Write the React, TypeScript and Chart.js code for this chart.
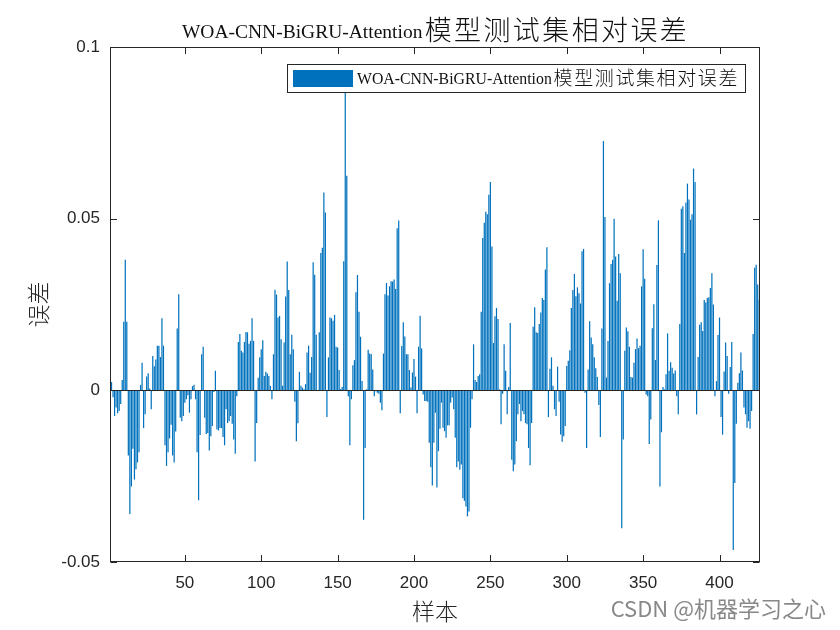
import React, { useEffect, useRef } from "react";
import { Chart, registerables } from "chart.js";
Chart.register(...registerables);

// ---- data (relative error per test sample) ----
const seg0 = [0.001];
const seg1 = [0.0024,-0.002,-0.0075,-0.005,-0.0067,-0.006,-0.004,0.003,0.020,0.038,0.020,-0.019,-0.036,-0.028,-0.017,-0.026,-0.023,-0.021,-0.018,0.0016,0.008,-0.011,-0.007,0.004,0.005,0.0005,-0.0055,0.010,0.007,0.009,0.013,0.013,0.0097,0.021,0.013,-0.016,-0.022,-0.018,-0.014,-0.010,-0.019,-0.021,-0.012,0.018,0.028,-0.008,-0.009,-0.0075,-0.0036,-0.0026,-0.0014,-0.0065,-0.0026];
const seg2 = [0.0012,0.0016,-0.0026,-0.018,-0.032,-0.013,0.0105,0.0127,-0.008,-0.0127,-0.0124,-0.0175,-0.0134,-0.0104,-0.0005,0.0057,-0.0114,-0.0117,-0.011,-0.011,-0.0136,-0.016,-0.0055,-0.0095,-0.009,-0.0075,-0.0097,-0.0143,-0.0185,-0.0017,0.0141,0.0164,0.0115,0.011,0.0141,0.017,0.0169,0.0136,0.0144,0.021,0.0144,-0.0207,-0.0095,0.0037,0.0096,0.012,0.0146,0.0042,0.0054,0.0049,0.0042,0.0013,-0.0026,0.0105];
const seg3 = [0.0293,0.0279,0.0212,0.0217,0.0149,0.0013,0.0139,0.0273,0.0375,0.0292,0.0105,0.0162,0.012,-0.0033,-0.0148,-0.0096,0.0054,0.0013,0.0008,0.0003,0.0018,0.011,0.013,0.0051,0.0097,0.0373,0.0337,0.0162,-0.0002,0.0169,0.040,0.0415,0.0576,0.0518,-0.0078,0.0096,0.0212,0.021,0.0203,0.022,0.0127,0.0125,0.0059,0.0004,0.001,0.0376,0.0874,0.0625,-0.0017,-0.016,-0.0026,0.0073,0.0088];
const seg4 = [0.0286,0.0336,0.0229,0.0156,0.0027,-0.0377,-0.0168,0.0003,0.0118,0.0107,0.0105,0.0061,-0.0017,-0.0003,-0.0007,-0.001,-0.0036,-0.0058,0.0107,0.028,0.0313,0.0276,0.0303,0.0318,0.0317,0.0323,0.0295,0.0472,0.0495,-0.0067,0.0129,0.0198,0.0157,0.0105,0.0105,0.0059,0.0008,0.0052,0.0091,0.004,-0.0067,0.0127,0.0217,0.0122,-0.0012,-0.0031,-0.0031,-0.0033,-0.0153,-0.0224,-0.0277,-0.0153,-0.0065];
const seg5 = [-0.0283,-0.0177,-0.0112,-0.0036,-0.0109,-0.0119,-0.0138,-0.0102,-0.0102,-0.0036,-0.0021,-0.0055,-0.0138,-0.0224,-0.0207,-0.0231,-0.0216,-0.0314,-0.0322,-0.0338,-0.0367,-0.0353,-0.0109,-0.0026,0.0134,0.003,0.0024,0.0042,0.0047,0.0229,0.0444,0.0488,0.052,0.0513,0.057,0.0607,0.0419,0.0138,0.0216,0.024,0.0208,0.0003,-0.0099,-0.001,0.0134,0.0057,-0.007,0.001,0.0196,-0.0202,-0.0236,-0.0216,-0.0148,-0.007,-0.004];
const seg6 = [-0.009,-0.006,-0.007,-0.0095,-0.0099,-0.0168,-0.0218,-0.0095,0.0185,0.0242,0.0169,0.0167,0.0193,0.0227,0.0269,0.0263,0.0352,0.0417,-0.0078,0.0063,0.0096,0.0013,-0.0055,-0.0075,0.0069,-0.0033,-0.0129,-0.015,-0.0134,-0.0104,0.0071,0.0086,0.0117,0.024,0.0292,0.0339,0.0274,0.03,0.0283,0.0253,0.0405,0.0412,-0.0007,-0.0168,0.0061,0.0201,0.0154,0.0134,0.0096,0.0064,0.0039,-0.0043,-0.0136,0.018];
const seg7 = [0.0726,0.0505,0.0037,0.0144,0.0312,0.0368,0.038,0.05,0.039,0.0261,0.0397,0.0341,-0.0402,-0.0143,0.0115,0.0183,0.0172,0.0127,0.0039,0.0037,0.008,0.012,0.0151,0.0123,0.013,0.0303,0.0411,0.0325,-0.0012,-0.0017,-0.0156,-0.0085,0.0181,0.0251,0.0088,0.0365,0.0495,-0.028,-0.0122,0.001,0.0003,0.0047,0.0166,0.0057,0.0082,0.0066,0.0049,0.0058,-0.0017,-0.007,0.0193,0.0529,0.0536,0.04];
const seg8 = [0.0547,0.0602,0.0556,0.0497,0.0513,0.0646,0.0607,-0.007,0.0097,0.0191,0.0198,0.0173,0.0263,0.0256,0.0269,0.0271,0.0298,0.0341,0.025,-0.0017,0.0027,0.0161,0.0212,-0.0078,-0.0129,0.0055,0.0139,0.01,-0.001,0.0068,0.0141,-0.0465,-0.027,-0.0097,0.0022,0.005,0.011,0.0058,-0.005,-0.007,-0.0109,-0.009,-0.0112,-0.006,0.0164,0.0357,0.0366,0.0308,0.0264];
const errors: number[] = [...seg0, ...seg1, ...seg2, ...seg3, ...seg4, ...seg5, ...seg6, ...seg7, ...seg8];

const xTicks = [50, 100, 150, 200, 250, 300, 350, 400];
const yTicks = [-0.05, 0, 0.05, 0.1];
const yTickLabels = ["-0.05", "0", "0.05", "0.1"];
const titleLatin = "WOA-CNN-BiGRU-Attention";
const titleCJK = "模型测试集相对误差";
const xLabel = "样本";
const yLabel = "误差";
const watermark = "CSDN @机器学习之心";

const BAR = "#0072BD";
const AX = "#262626";
const SERIF = '"Liberation Serif", "Times New Roman", serif';
const CJK = '"Noto Sans CJK SC", sans-serif';
const SANS = '"Liberation Sans", Arial, sans-serif';

function drawMixed(ctx: CanvasRenderingContext2D, latin: string, latinSize: number, cjk: string, cjkSize: number, pitch: number, x: number, baseline: number, color: string) {
  ctx.fillStyle = color;
  ctx.textBaseline = "alphabetic";
  ctx.textAlign = "left";
  ctx.font = `${latinSize}px ${SERIF}`;
  ctx.fillText(latin, x, baseline);
  let cx = x + ctx.measureText(latin).width + 1;
  ctx.font = `300 ${cjkSize}px ${CJK}`;
  for (const ch of cjk) {
    const w = ctx.measureText(ch).width;
    ctx.fillText(ch, cx + (pitch - w) / 2, baseline + cjkSize * 0.06);
    cx += pitch;
  }
  return cx;
}
function mixedWidth(ctx: CanvasRenderingContext2D, latin: string, latinSize: number, cjk: string, pitch: number) {
  ctx.font = `${latinSize}px ${SERIF}`;
  return ctx.measureText(latin).width + 1 + [...cjk].length * pitch;
}

const decor = {
  id: "decor",
  beforeDraw(chart: any) {
    const ctx = chart.ctx;
    ctx.save();
    ctx.fillStyle = "#ffffff";
    ctx.fillRect(0, 0, chart.width, chart.height);
    ctx.restore();
  },
  afterDatasetsDraw(chart: any) {
    const ctx = chart.ctx;
    const { left, right } = chart.chartArea;
    const y0 = Math.round(chart.scales.y.getPixelForValue(0)) + 0.5;
    ctx.save();
    ctx.strokeStyle = AX;
    ctx.lineWidth = 1;
    ctx.beginPath();
    ctx.moveTo(left, y0);
    ctx.lineTo(right, y0);
    ctx.stroke();
    ctx.restore();
  },
  afterDraw(chart: any) {
    const ctx = chart.ctx;
    const { left, right, top, bottom } = chart.chartArea;
    const xs = chart.scales.x, ys = chart.scales.y;
    ctx.save();
    // box
    ctx.strokeStyle = AX;
    ctx.lineWidth = 1;
    const L = Math.round(left) + 0.5, R = Math.round(right) - 0.5, T = Math.round(top) + 0.5, B = Math.round(bottom) - 0.5;
    ctx.strokeRect(L, T, R - L, B - T);
    const tl = 6.5;
    ctx.beginPath();
    for (const v of xTicks) {
      const px = Math.round(xs.getPixelForValue(v)) + 0.5;
      ctx.moveTo(px, B); ctx.lineTo(px, B - tl);
      ctx.moveTo(px, T); ctx.lineTo(px, T + tl);
    }
    for (const v of yTicks) {
      const py = Math.round(ys.getPixelForValue(v)) + 0.5;
      ctx.moveTo(L, py); ctx.lineTo(L + tl, py);
      ctx.moveTo(R, py); ctx.lineTo(R - tl, py);
    }
    ctx.stroke();

    // title
    const tw = mixedWidth(ctx, titleLatin, 19.5, titleCJK, 29.4);
    drawMixed(ctx, titleLatin, 19.5, titleCJK, 27, 29.4, (left + right) / 2 - tw / 2, 38, "#111111");

    // axis labels
    ctx.fillStyle = AX;
    ctx.font = `300 23px ${CJK}`;
    ctx.textAlign = "center";
    ctx.textBaseline = "middle";
    ctx.fillText(xLabel, (left + right) / 2, 611);
    ctx.save();
    ctx.translate(38, (top + bottom) / 2);
    ctx.rotate(-Math.PI / 2);
    ctx.fillText(yLabel, 0, 0);
    ctx.restore();

    // legend
    const lx = 287.5, ly = 64.5, lw = 458, lh = 28;
    ctx.fillStyle = "#ffffff";
    ctx.fillRect(lx, ly, lw, lh);
    ctx.strokeStyle = AX;
    ctx.strokeRect(lx, ly, lw, lh);
    ctx.fillStyle = BAR;
    ctx.fillRect(293, 70, 60, 17);
    drawMixed(ctx, titleLatin, 15.8, titleCJK, 19, 20.6, 357, 84, "#111111");

    // watermark
    ctx.font = `22px ${CJK}`;
    ctx.textAlign = "right";
    ctx.textBaseline = "alphabetic";
    ctx.fillStyle = "rgba(130,130,130,0.95)";
    ctx.fillText(watermark, 826, 617);
    ctx.restore();
  },
};

export default function App() {
  const ref = useRef<HTMLCanvasElement | null>(null);
  useEffect(() => {
    if (!ref.current) return;
    const chart = new Chart(ref.current, {
      type: "bar",
      data: {
        datasets: [
          {
            label: titleLatin + titleCJK,
            data: errors.map((v, i) => ({ x: i + 1, y: v })),
            backgroundColor: BAR,
            borderWidth: 0,
            barPercentage: 0.8,
            categoryPercentage: 1.0,
          } as any,
        ],
      },
      options: {
        animation: false,
        responsive: false,
        maintainAspectRatio: false,
        devicePixelRatio: 1,
        layout: { padding: { left: 0, right: 80, top: 47, bottom: 0 } },
        plugins: { legend: { display: false }, title: { display: false }, tooltip: { enabled: false } },
        scales: {
          x: {
            type: "linear",
            min: 1,
            max: 426.5,
            offset: false,
            grid: { display: false, drawTicks: false },
            border: { display: false },
            afterBuildTicks: (s: any) => { s.ticks = xTicks.map((v) => ({ value: v })); },
            afterFit: (s: any) => { s.height = 68; },
            ticks: { font: { family: SANS, size: 17 }, color: AX, padding: 11, maxRotation: 0, autoSkip: false, callback: (v: any) => String(v) },
          },
          y: {
            type: "linear",
            min: -0.05,
            max: 0.1,
            grid: { display: false, drawTicks: false },
            border: { display: false },
            afterBuildTicks: (s: any) => { s.ticks = yTicks.map((v) => ({ value: v })); },
            afterFit: (s: any) => { s.width = 110; },
            ticks: {
              font: { family: SANS, size: 17 }, color: AX, padding: 10, autoSkip: false,
              callback: (v: any) => { const i = yTicks.indexOf(v); return i >= 0 ? yTickLabels[i] : ""; },
            },
          },
        },
      } as any,
      plugins: [decor],
    });
    return () => chart.destroy();
  }, []);
  return (
    <div style={{ position: "absolute", left: 0, top: 0, width: 840, height: 630, background: "#fff" }}>
      <canvas ref={ref} width={840} height={630} style={{ display: "block", width: 840, height: 630 }} />
    </div>
  );
}
